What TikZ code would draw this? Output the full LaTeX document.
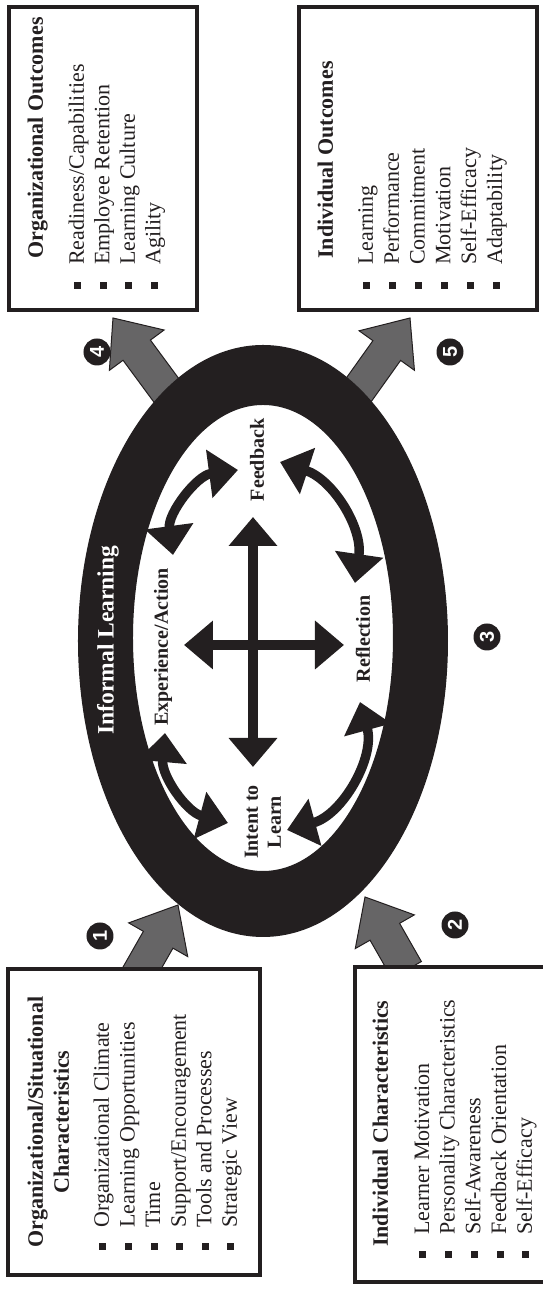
\documentclass[tikz,border=0pt]{standalone}
\usepackage{fontspec}
\setmainfont{Liberation Serif}
\setsansfont{Liberation Sans}
\usetikzlibrary{arrows.meta}

\definecolor{ink}{RGB}{35,31,32}
\definecolor{flowgray}{RGB}{102,101,102}

\newcommand\itemfont{\fontsize{22}{25}\selectfont}
\newcommand\titlefont{\fontsize{22}{26}\selectfont\bfseries}

% fat grey arrow: tip x, tip y, angle, length
\newcommand\flowarrow[4]{%
  \begin{scope}[shift={(#1,#2)}, rotate=#3]
    \filldraw[flow] (0,0) -- (-40,34) -- (-40,17) -- (-#4,17)
      -- (-#4,-17) -- (-40,-17) -- (-40,-34) -- cycle;
  \end{scope}}

\begin{document}
\begin{tikzpicture}[
    x=1pt, y=1pt,
    rotate=90, transform shape,
    >={Triangle[length=29pt,width=47pt]},
    box/.style={draw=ink, line width=4.5pt, fill=white},
    boxtitle/.style={font=\titlefont, text=ink, inner sep=0pt},
    entry/.style={font=\itemfont, text=ink, inner sep=0pt, anchor=base west},
    stage/.style={font=\fontsize{20}{23}\selectfont\bfseries, text=ink, align=center, inner sep=0pt},
    cyc/.style={draw=ink, line width=9.5pt, <->},
    flow/.style={fill=flowgray, draw=ink, line width=1pt},
    num/.style={circle, fill=ink, text=white, minimum size=27pt, inner sep=0pt,
                font=\fontsize{20}{20}\selectfont\sffamily\bfseries}
]

\useasboundingbox (0,0) rectangle (1289,542);

% outcome arrows go under the ring
\flowarrow{971}{429}{36.4}{140}
\flowarrow{971}{132}{-35.5}{140}

% ring
\fill[ink, even odd rule] (648,279) ellipse [x radius=296, y radius=185]
                          (651,279) ellipse [x radius=233, y radius=130];
\node[font=\fontsize{23.5}{23.5}\selectfont\bfseries, text=white, inner sep=0pt]
    (ring) at (649,434) {Informal Learning};

% input arrows
\flowarrow{384}{364}{-29.7}{82}
\flowarrow{392}{177}{29.7}{84}

% boxes
\draw[box] (14,282) rectangle (320,534);
\draw[box] (7,-3) -- (7,187) -- (322,187) -- (322,-3);
\draw[box] (979,345) rectangle (1282,533);
\draw[box] (979,5) rectangle (1282,243);

% Organizational/Situational Characteristics
\node[boxtitle, anchor=base] (osA) at (167,499) {Organizational/Situational};
\node[boxtitle, anchor=base] (osB) at (167,473) {Characteristics};
\foreach \t [count=\i from 0] in {Organizational Climate, Learning Opportunities,
    Time, Support/Encouragement, Tools and Processes, Strategic View}{
  \fill[ink] (38.5,{439-25.6*\i-3.5}) rectangle ++(7,7);
  \node[entry] (os\i) at (61,{433-25.6*\i}) {\t};
}

% Individual Characteristics
\node[boxtitle, anchor=base west] (icA) at (42,154) {Individual Characteristics};
\foreach \t [count=\i from 0] in {Learner Motivation, Personality Characteristics,
    Self-Awareness, Feedback Orientation, Self-Efficacy}{
  \fill[ink] (30.5,{119-25.7*\i-3.5}) rectangle ++(7,7);
  \node[entry] (ic\i) at (54,{113-25.7*\i}) {\t};
}

% Organizational Outcomes
\node[boxtitle, anchor=base west] (ooA) at (1030,499) {Organizational Outcomes};
\foreach \t [count=\i from 0] in {Readiness/Capabilities, Employee Retention,
    Learning Culture, Agility}{
  \fill[ink] (999.5,{464-25.5*\i-3.5}) rectangle ++(7,7);
  \node[entry] (oo\i) at (1024,{458-25.5*\i}) {\t};
}

% Individual Outcomes
\node[boxtitle, anchor=base west] (ioA) at (1030,209) {Individual Outcomes};
\foreach \t [count=\i from 0] in {Learning, Performance, Commitment,
    Motivation, Self-Efficacy, Adaptability}{
  \fill[ink] (999.5,{175-25.8*\i-3.5}) rectangle ++(7,7);
  \node[entry] (io\i) at (1024,{169-25.8*\i}) {\t};
}

% learning cycle
\node[stage] (intent) at (467,279) {Intent to\\Learn};
\node[stage] (exper) at (642,379) {Experience/Action};
\node[stage] (feed) at (829,285) {Feedback};
\node[stage] (refl) at (650,179) {Reflection};

\coordinate (cw) at (522,289);
\coordinate (ce) at (772,289);
\coordinate (cs) at (644,198);
\coordinate (cn) at (644,358);
\draw[cyc] (cw) -- (ce);
\draw[cyc] (cs) -- (cn);

\coordinate (x1) at (734,369);
\coordinate (f1) at (819,304);
\coordinate (f2) at (827,262);
\coordinate (r2) at (706,187);
\coordinate (x3) at (556,377);
\coordinate (i3) at (466,314);
\coordinate (r4) at (587,182);
\coordinate (i4) at (459,255);
\draw[cyc] (x1) to[bend left=45] (f1);
\draw[cyc] (f2) to[bend left=40] (r2);
\draw[cyc] (x3) to[bend right=40] (i3);
\draw[cyc] (r4) to[bend left=45] (i4);

% step numbers
\node[num] (n1) at (353,442) {1};
\node[num] (n2) at (364,87) {2};
\node[num] (n3) at (652,55) {3};
\node[num] (n4) at (937,445) {4};
\node[num] (n5) at (937,92) {5};

\end{tikzpicture}
\end{document}
